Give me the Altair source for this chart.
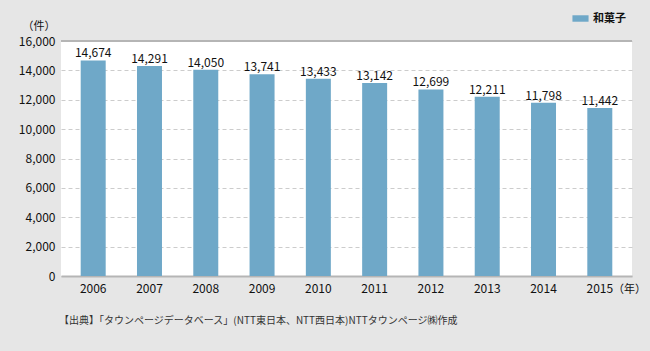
import altair as alt
import pandas as pd

years = ["2006", "2007", "2008", "2009", "2010", "2011", "2012", "2013", "2014", "2015"]
counts = [14674, 14291, 14050, 13741, 13433, 13142, 12699, 12211, 11798, 11442]
y_ticks = [0, 2000, 4000, 6000, 8000, 10000, 12000, 14000, 16000]
series_name = "和菓子"
y_unit = "（件）"
x_unit = "（年）"
source_note = "【出典】「タウンページデータベース」(NTT東日本、NTT西日本)NTTタウンページ㈱作成"

df = pd.DataFrame({"year": years, "count": counts, "series": [series_name] * len(years)})
one = pd.DataFrame({"k": [0]})

FONT = "Noto Sans CJK JP"
JP = "Noto Sans CJK JP"
W, H = 571, 235

xenc = alt.X("year:N", title=None, sort=years,
             scale=alt.Scale(paddingInner=0.556, paddingOuter=0.35),
             axis=alt.Axis(labelAngle=0, labelFont=FONT, labelFontSize=12, labelColor="#111",
                           ticks=False, domain=True, domainColor="#b5b5b5", domainWidth=2,
                           labelPadding=7, grid=False))
yenc = alt.Y("count:Q", title=None,
             scale=alt.Scale(domain=[0, 16000]),
             axis=alt.Axis(values=y_ticks, format=",d", labelFont=FONT,
                           labelFontSize=12, labelColor="#111", ticks=False, domain=False,
                           labelOverlap=False, labelPadding=6, grid=True,
                           gridDash=[4, 3], gridColor="#cccccc"))

base = alt.Chart(df).encode(x=xenc, y=yenc)

bars = base.mark_bar(color="#6fa8c8").encode(
    color=alt.Color("series:N", scale=alt.Scale(range=["#6fa8c8"]),
                    legend=alt.Legend(title=None, orient="none", legendX=511, legendY=-31,
                                      symbolType="M-1,-0.4L1,-0.4L1,0.4L-1,0.4Z",
                                      symbolSize=260, symbolStrokeWidth=0,
                                      labelFont=JP, labelFontSize=11, labelColor="#111",
                                      labelFontWeight="bold")),
)

labels = base.mark_text(dy=-7, font=FONT, fontSize=12, color="#111").encode(
    text=alt.Text("count:Q", format=",d"),
)

top_rule = alt.Chart(one).mark_rule(color="#b5b5b5", strokeWidth=2).encode(
    x=alt.value(0), x2=alt.value(W), y=alt.value(0)
)

ylab = alt.Chart(one).mark_text(font=JP, fontSize=11, color="#111", align="center").encode(
    x=alt.value(-22), y=alt.value(-14), text=alt.value(y_unit)
)
xlab = alt.Chart(one).mark_text(font=JP, fontSize=11, color="#111", align="left").encode(
    x=alt.value(552), y=alt.value(14 + H), text=alt.value(x_unit)
)
note = alt.Chart(one).mark_text(font=JP, fontSize=10, color="#333", align="left").encode(
    x=alt.value(-2), y=alt.value(H + 45), text=alt.value(source_note)
)

chart = alt.layer(bars, labels, top_rule, ylab, xlab, note).properties(
    width=W, height=H,
    autosize=alt.AutoSizeParams(type="none"),
    padding={"left": 61, "top": 41, "right": 18, "bottom": 75},
    background="#e6e6e6",
).configure_view(fill="white", stroke=None)

chart.save("out.html", embed_options={"renderer": "svg", "actions": False})
